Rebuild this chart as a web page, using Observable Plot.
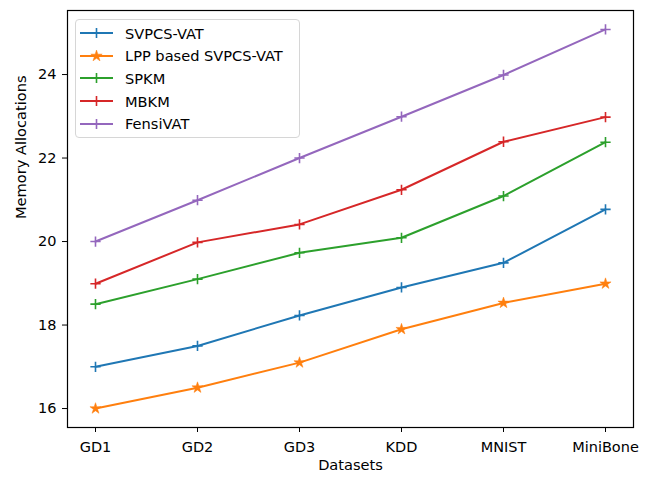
<!DOCTYPE html>
<html>
<head>
<meta charset="utf-8">
<script src="https://cdn.jsdelivr.net/npm/d3@7"></script>
<script src="https://cdn.jsdelivr.net/npm/@observablehq/plot@0.6"></script>
<style>
  body { margin: 0; background: #fff; }
  #wrap { position: relative; width: 648px; height: 477px; font-family: "DejaVu Sans", sans-serif; }
  #legend { position: absolute; left: 75px; top: 19px; width: 225px; height: 119px; box-sizing: border-box;
    border: 1px solid #d6d6d6; border-radius: 4px; background: rgba(255,255,255,0.85); }
  .item { position: absolute; left: 4px; height: 20px; display: flex; align-items: center; font-size: 14.6px; color: #000; white-space: nowrap; }
  .item svg { margin-right: 11px; }
</style>
</head>
<body>
<div id="wrap"></div>
<script>
const datasets = ["GD1", "GD2", "GD3", "KDD", "MNIST", "MiniBone"];
const seriesNames = ["SVPCS-VAT", "LPP based SVPCS-VAT", "SPKM", "MBKM", "FensiVAT"];
const svpcsVat = [17.0, 17.5, 18.23, 18.9, 19.49, 20.77];
const lppSvpcsVat = [16.0, 16.5, 17.1, 17.9, 18.53, 18.99];
const spkm = [18.5, 19.1, 19.73, 20.09, 21.09, 22.38];
const mbkm = [18.99, 19.98, 20.41, 21.24, 22.39, 22.98];
const fensiVat = [20.0, 20.99, 22.0, 22.99, 23.99, 25.08];
const colors = ["#1f77b4", "#ff7f0e", "#2ca02c", "#d62728", "#9467bd"];
const yTicks = [16, 18, 20, 22, 24];

const allSeries = [svpcsVat, lppSvpcsVat, spkm, mbkm, fensiVat];
const rows = [];
allSeries.forEach((vals, si) => vals.forEach((v, i) => rows.push({series: seriesNames[si], dataset: datasets[i], value: v})));

const plusSymbol = {
  draw(ctx, size) {
    const r = Math.sqrt(size) / 2;
    ctx.moveTo(-r, 0); ctx.lineTo(r, 0);
    ctx.moveTo(0, -r); ctx.lineTo(0, r);
  }
};

const vmin = d3.min(rows, d => d.value), vmax = d3.max(rows, d => d.value);
const pad = (vmax - vmin) * 0.05;

const chart = Plot.plot({
  width: 648,
  height: 477,
  marginLeft: 67,
  marginRight: 15,
  marginTop: 10,
  marginBottom: 50,
  style: {fontFamily: "DejaVu Sans, sans-serif", fontSize: "14.5px", color: "#000", background: "#fff"},
  x: {type: "point", domain: datasets, padding: 0.25, label: null},
  y: {domain: [vmin - pad, vmax + pad], label: null},
  color: {domain: seriesNames, range: colors},
  marks: [
    Plot.axisX({tickSize: 5, tickPadding: 9, fontSize: 14.5, stroke: "#000"}),
    Plot.axisY({ticks: yTicks, tickSize: 5, tickPadding: 6, fontSize: 14.5, stroke: "#000"}),
    Plot.text(["Datasets"], {frameAnchor: "bottom", dy: 42, fontSize: 14.6, fill: "#000"}),
    Plot.text(["Memory Allocations"], {frameAnchor: "left", dx: -46, rotate: -90, fontSize: 14.6, fill: "#000"}),
    Plot.lineY(rows, {x: "dataset", y: "value", z: "series", stroke: "series", strokeWidth: 2}),
    Plot.dot(rows.filter(d => d.series !== seriesNames[1]), {x: "dataset", y: "value", stroke: "series", fill: "none", symbol: plusSymbol, r: 5.8, strokeWidth: 1.6}),
    Plot.dot(rows.filter(d => d.series === seriesNames[1]), {x: "dataset", y: "value", fill: "series", stroke: "series", strokeWidth: 0.5, symbol: "star", r: 3.5}),
    Plot.frame({stroke: "#000", strokeWidth: 1.2})
  ]
});

const wrap = document.getElementById("wrap");
wrap.appendChild(chart);

const legend = document.createElement("div");
legend.id = "legend";
seriesNames.forEach((name, i) => {
  const item = document.createElement("div");
  item.className = "item";
  item.style.top = (3 + i * 22.7) + "px";
  const isStar = i === 1;
  const marker = isStar
    ? `<path transform="translate(16.5,10)" d="${d3.symbol(d3.symbolStar, 40)()}" fill="${colors[i]}" stroke="${colors[i]}" stroke-width="0.5"/>`
    : `<path d="M11.5,10H21.5M16.5,5V15" stroke="${colors[i]}" stroke-width="1.6"/>`;
  item.innerHTML = `<svg width="34" height="20"><line x1="0" x2="33" y1="10" y2="10" stroke="${colors[i]}" stroke-width="2"/>${marker}</svg><span>${name}</span>`;
  legend.appendChild(item);
});
wrap.appendChild(legend);
</script>
</body>
</html>
